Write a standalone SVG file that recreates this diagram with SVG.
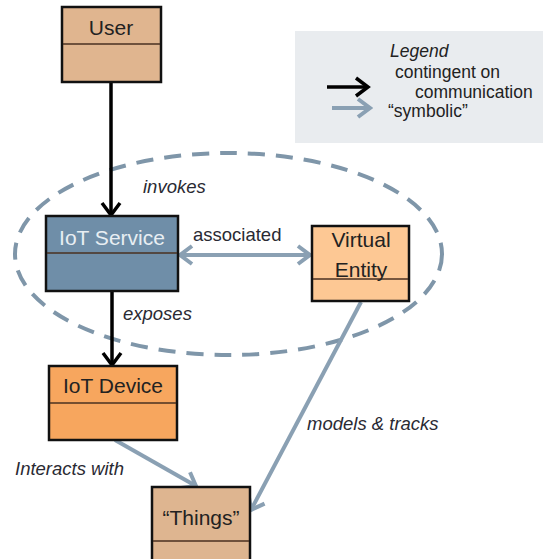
<svg xmlns="http://www.w3.org/2000/svg" width="543" height="559" viewBox="0 0 543 559">
<defs>
<style>
.box{stroke:#111;stroke-width:2.5}
.div{stroke:#4a3020;stroke-width:1.5}
.name{font-family:"Liberation Sans",Arial,sans-serif;font-size:21px;fill:#222;text-anchor:middle}
.lbl{font-family:"Liberation Sans",Arial,sans-serif;font-size:18.5px;fill:#2a2a33;font-style:italic}
.leg{font-family:"Liberation Sans",Arial,sans-serif;font-size:17.5px;fill:#222}
.blk{stroke:#000;stroke-width:3.5;fill:none}
.gry{stroke:#8aa0b3;stroke-width:4;fill:none}
</style>
<marker id="mb" markerUnits="userSpaceOnUse" viewBox="0 0 18 24" refX="15" refY="12" markerWidth="18" markerHeight="24" orient="auto-start-reverse">
<path d="M3,3 L15,12 L3,21" fill="none" stroke="#000" stroke-width="3.5"/>
</marker>
<marker id="mg" markerUnits="userSpaceOnUse" viewBox="0 0 18 24" refX="15" refY="12" markerWidth="18" markerHeight="24" orient="auto-start-reverse">
<path d="M3,3 L15,12 L3,21" fill="none" stroke="#8aa0b3" stroke-width="4"/>
</marker>
</defs>
<rect width="543" height="559" fill="#fff"/>

<g id="legend">
<rect x="295" y="31" width="248" height="112" fill="#e9ecef"/>
<text class="leg" x="390" y="57" style="font-style:italic">Legend</text>
<text class="leg" x="395" y="78">contingent on</text>
<text class="leg" x="415" y="98">communication</text>
<text class="leg" x="388" y="117">“symbolic”</text>
<path class="blk" d="M327,87 L368,87" marker-end="url(#mb)"/>
<path class="gry" d="M332,108 L370,108" marker-end="url(#mg)"/>
</g>

<g id="boundary">
<ellipse cx="228.5" cy="254" rx="213.5" ry="101" fill="none" stroke="#7f96a9" stroke-width="4" stroke-dasharray="17,11"/>
</g>

<g id="connectors">
<path class="blk" d="M111,82 L111,215" marker-end="url(#mb)"/>
<path class="blk" d="M112,291 L112,365" marker-end="url(#mb)"/>
<path class="gry" d="M180,255 L310,255" marker-start="url(#mg)" marker-end="url(#mg)"/>
<path class="gry" d="M115,440 L196,486" marker-end="url(#mg)"/>
<path class="gry" d="M361,302 L251,510" marker-end="url(#mg)"/>
<text class="lbl" x="143" y="193">invokes</text>
<text class="lbl" x="193" y="241" style="font-style:normal">associated</text>
<text class="lbl" x="123" y="320">exposes</text>
<text class="lbl" x="15" y="475">Interacts with</text>
<text class="lbl" x="307" y="430">models &amp; tracks</text>
</g>

<g id="user">
<rect class="box" x="62" y="7" width="99" height="75" fill="#e0b58f"/>
<line class="div" x1="63" y1="44" x2="160" y2="44"/>
<text class="name" x="111" y="35">User</text>
</g>

<g id="iot-service">
<rect class="box" x="46" y="216" width="132" height="75" fill="#6f8ea8"/>
<line class="div" x1="47" y1="253" x2="177" y2="253" stroke="#2a3a48"/>
<text class="name" x="112" y="245" style="fill:#e8eef3">IoT Service</text>
</g>

<g id="virtual-entity">
<rect class="box" x="312" y="226" width="97" height="75" fill="#fdc894"/>
<line class="div" x1="313" y1="279" x2="408" y2="279"/>
<text class="name" x="361" y="247">Virtual</text>
<text class="name" x="361" y="277">Entity</text>
</g>

<g id="iot-device">
<rect class="box" x="49" y="366" width="128" height="74" fill="#f7a65e"/>
<line class="div" x1="50" y1="403" x2="176" y2="403"/>
<text class="name" x="113" y="393">IoT Device</text>
</g>

<g id="things">
<rect class="box" x="152" y="487" width="98" height="80" fill="#deb590"/>
<line class="div" x1="153" y1="541" x2="249" y2="541"/>
<text class="name" x="201" y="525">“Things”</text>
</g>
</svg>
